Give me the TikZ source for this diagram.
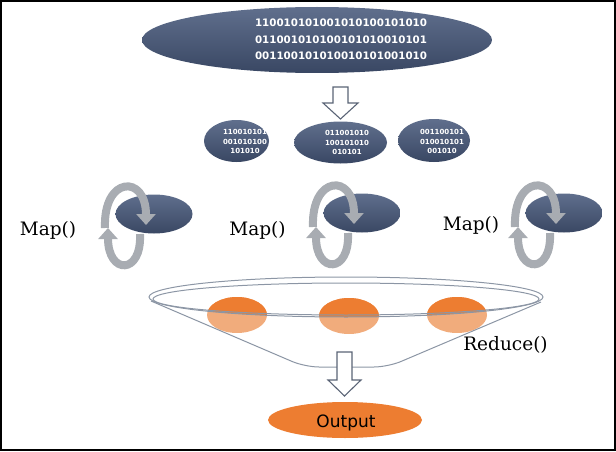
\documentclass[tikz,border=0pt]{standalone}
\usepackage{fontspec}
\usetikzlibrary{shapes.geometric,arrows.meta}
\newfontfamily\mapfont{DejaVu Serif}
\newfontfamily\binfont{DejaVu Sans}
\definecolor{navyT}{RGB}{96,111,141}
\definecolor{navyB}{RGB}{57,71,99}
\definecolor{orgD}{RGB}{237,125,49}
\definecolor{orgL}{RGB}{241,172,124}
\definecolor{bandG}{RGB}{168,172,178}
\definecolor{ringG}{RGB}{140,150,165}
\definecolor{arrG}{RGB}{90,100,118}
\begin{document}
\begin{tikzpicture}[x=1pt,y=-1pt,
  blob/.style={ellipse, inner sep=0pt, draw=none, top color=navyT, bottom color=navyB},
  orng/.style={ellipse, inner sep=0pt, draw=none, fill=orgL},
  bintxt/.style={text=white, align=center, inner sep=0pt},
  lbl/.style={font=\mapfont\fontsize{18.5}{22}\selectfont, anchor=base, inner sep=0pt},
  band/.style={draw=bandG, line width=8pt, -{Triangle[width=19pt,length=11pt]}},
  hollow/.style={draw=arrG, line width=1.1pt, fill=white, line join=miter},
  ring/.style={draw=ringG, line width=1pt}]
\useasboundingbox (0,0) rectangle (616,452);
\draw[line width=2pt] (1,1) rectangle (614.5,450);

% top data ellipse
\node[blob, minimum width=350pt, minimum height=66pt] (top) at (317,40) {};
\node[bintxt, font=\binfont\bfseries\fontsize{10.3}{16.5}\selectfont] (toptxt) at (341,39.5)
  {110010101001010100101010\\011001010100101010010101\\001100101010010101001010};

% split arrow
\path[hollow] (333,87) -- (348,87) -- (348,103) -- (358,103) -- (340.5,119) -- (323,103) -- (333,103) -- cycle;

% three chunks
\node[blob, minimum width=65pt, minimum height=42pt] (s1) at (236.5,141) {};
\node[blob, minimum width=93pt, minimum height=42pt] (s2) at (340.5,142.5) {};
\node[blob, minimum width=72pt, minimum height=43pt] (s3) at (434,140.5) {};
\node[bintxt, font=\binfont\bfseries\fontsize{7}{9.5}\selectfont] (t1) at (245,141.5) {110010101\\001010100\\101010};
\node[bintxt, font=\binfont\bfseries\fontsize{7}{9.5}\selectfont] (t2) at (347,142.5) {011001010\\100101010\\010101};
\node[bintxt, font=\binfont\bfseries\fontsize{7}{9.5}\selectfont] (t3) at (442,141.5) {001100101\\010010101\\001010};

% map stages
\foreach \n/\cx/\cy in {1/154/214, 2/362/213, 3/564/213}{
  \coordinate (c\n) at (\cx,\cy);
  \begin{scope}[shift={(c\n)}]
    \draw[band] (-14,20) .. controls (-12,61) and (-46,61) .. (-46,14);
  \end{scope}
  \node[blob, minimum width=77pt, minimum height=39pt] (m\n) at (c\n) {};
  \begin{scope}[shift={(c\n)}]
    \draw[band] (-49,14) .. controls (-51,-38) and (-8,-40) .. (-8,11);
  \end{scope}
}
\node[lbl] (map1) at (48,235) {Map()};
\node[lbl] (map2) at (257.5,235) {Map()};
\node[lbl] (map3) at (471,230) {Map()};

% reduce funnel
\node[orng, minimum width=60pt, minimum height=36pt] (r1) at (237,315) {};
\node[orng, minimum width=60pt, minimum height=36pt] (r2) at (349,316) {};
\node[orng, minimum width=60pt, minimum height=36pt] (r3) at (457,315) {};
\begin{scope}
  \clip (346,297) ellipse [x radius=197, y radius=20];
  \foreach \r in {r1,r2,r3}{
    \fill[orgD] (\r.center) ellipse [x radius=30, y radius=18];
  }
\end{scope}
\draw[ring] (346,297) ellipse [x radius=197, y radius=20];
\draw[ring] (346,299) ellipse [x radius=193, y radius=16];
\draw[ring, rounded corners=14pt] (151,301) -- (305,367) -- (388,367) -- (541,302);
\node[lbl] (red) at (505.5,350) {Reduce()};

% output arrow
\path[hollow] (337,352) -- (352,352) -- (352,380) -- (361,380) -- (344.5,396) -- (328,380) -- (337,380) -- cycle;

% output
\node[ellipse, inner sep=0pt, fill=orgD, minimum width=154pt, minimum height=36pt] (out) at (345,420) {};
\node[font=\binfont\fontsize{17}{20}\selectfont, anchor=base, inner sep=0pt] (outtxt) at (346,427) {Output};
\end{tikzpicture}
\end{document}
